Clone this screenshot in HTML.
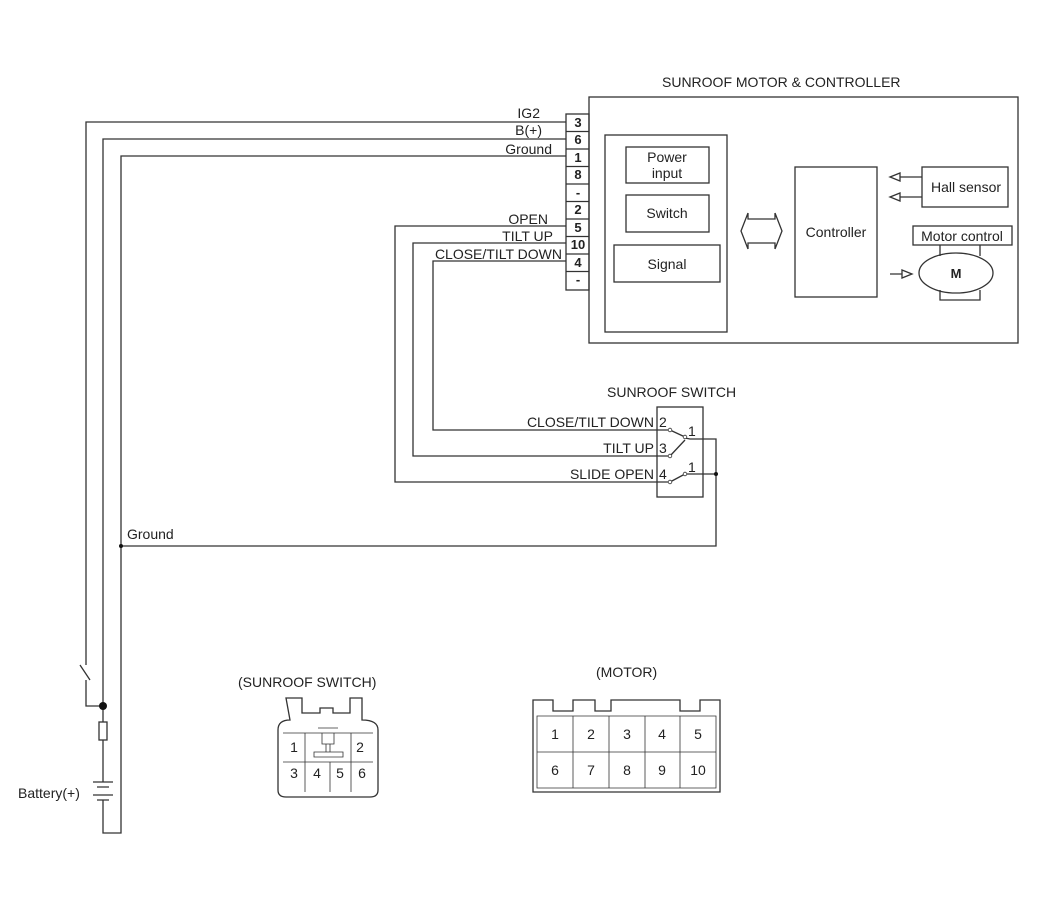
<!DOCTYPE html>
<html><head><meta charset="utf-8"><style>
body{margin:0;background:#fff}
svg text{font-family:"Liberation Sans",sans-serif;fill:#222}
</style></head><body>
<svg width="1050" height="903" viewBox="0 0 1050 903" xmlns="http://www.w3.org/2000/svg">
<g fill="none" stroke="#333" stroke-width="1.3">
<!-- main box -->
<rect x="589" y="97" width="429" height="246"/>
<rect x="566" y="114" width="23" height="176"/>
<path d="M566 131.5H589M566 149H589M566 166.5H589M566 184H589M566 201.5H589M566 219H589M566 236.5H589M566 254H589M566 271.5H589"/>
<rect x="605" y="135" width="122" height="197"/>
<rect x="626" y="147" width="83" height="36"/>
<rect x="626" y="195" width="83" height="37"/>
<rect x="614" y="245" width="106" height="37"/>
<path d="M748 213L741 231L748 249M775 213L782 231L775 249M748 213V219H775V213M748 249V243H775V249"/>
<rect x="795" y="167" width="82" height="130"/>
<rect x="922" y="167" width="86" height="40"/>
<path d="M922 177H900M922 197H900"/>
<path d="M890 177L900 173V181Z M890 197L900 193V201Z"/>
<rect x="913" y="226" width="99" height="19"/>
<path d="M940 245V256M980 245V256M940 290V300H980V290"/>
<ellipse cx="956" cy="273" rx="37" ry="20"/>
<path d="M890 274H902M902 270L912 274L902 278Z"/>
<!-- wires -->
<path d="M566 122H86V665M80 665L90 680M86 680V706H103"/>
<path d="M566 139H103V722M103 740V782M103 800V833H121V156H566"/>
<rect x="99" y="722" width="8" height="18"/>
<path d="M93 782H113M97 787H109M93 795H113M97 800H109"/>
<path d="M566 226H395V482H668"/>
<path d="M566 243H413V456H668"/>
<path d="M566 261H433V430H668"/>
<rect x="657" y="407" width="46" height="90"/>
<path d="M685 438L690 439H716V546H121"/>
<path d="M670 430L685 437M670 456L685 440M670 482L685 474M685 474H716"/>
<!-- connector switch -->
<path d="M286 698H302V713H320V708H333V713H350V698H362V720Q378 720 378 730V790Q378 797 370 797H286Q278 797 278 790V730Q278 720 290 720Z"/>
<path d="M283 733H373M283 762H373M305 733V792M330 762V792M351 733V792" stroke-width="0.8"/>
<path d="M318 728H338M322 733V744H334V733M326 752V744H330V752M314 752H343V757H314Z" stroke-width="0.8"/>
<!-- motor -->
<path d="M533 700H553V711H573V700H595V711H611V700H680V711H700V700H720V792H533Z"/>
<path d="M537 716H716V788H537ZM537 752H716M573 716V788M609 716V788M645 716V788M680 716V788" stroke-width="0.8"/>
</g>
<g fill="#111"><circle cx="103" cy="706" r="4"/><circle cx="121" cy="546" r="2"/><circle cx="716" cy="474" r="2"/></g>
<g fill="#fff" stroke="#333" stroke-width="0.8"><circle cx="670" cy="430" r="1.8"/><circle cx="685" cy="437" r="1.8"/><circle cx="670" cy="456" r="1.8"/><circle cx="670" cy="482" r="1.8"/><circle cx="685" cy="474" r="1.8"/></g>
<g font-size="14">
<text x="662" y="87">SUNROOF MOTOR &amp; CONTROLLER</text>
<g text-anchor="end"><text x="540" y="118">IG2</text><text x="542" y="135">B(+)</text><text x="552" y="154">Ground</text>
<text x="548" y="224">OPEN</text><text x="553" y="241">TILT UP</text><text x="562" y="259">CLOSE/TILT DOWN</text>
<text x="654" y="427">CLOSE/TILT DOWN</text><text x="654" y="453">TILT UP</text><text x="654" y="479">SLIDE OPEN</text></g>
<g text-anchor="middle" font-weight="bold" font-size="13"><text x="578" y="127">3</text><text x="578" y="144">6</text><text x="578" y="162">1</text><text x="578" y="179">8</text><text x="578" y="197">-</text><text x="578" y="214">2</text><text x="578" y="232">5</text><text x="578" y="249">10</text><text x="578" y="267">4</text><text x="578" y="284">-</text></g>
<g text-anchor="middle"><text x="667" y="162">Power</text><text x="667" y="178">input</text><text x="667" y="218">Switch</text><text x="667" y="269">Signal</text><text x="836" y="237">Controller</text><text x="966" y="192">Hall sensor</text><text x="962" y="241">Motor control</text><text x="956" y="278" font-weight="bold" font-size="13">M</text></g>
<text x="607" y="397">SUNROOF SWITCH</text>
<text x="659" y="427">2</text><text x="659" y="453">3</text><text x="659" y="479">4</text><text x="688" y="436">1</text><text x="688" y="472">1</text>
<text x="127" y="539">Ground</text>
<text x="18" y="798">Battery(+)</text>
<text x="238" y="687">(SUNROOF SWITCH)</text>
<text x="596" y="677">(MOTOR)</text>
<g text-anchor="middle"><text x="294" y="752">1</text><text x="360" y="752">2</text><text x="294" y="778">3</text><text x="317" y="778">4</text><text x="340" y="778">5</text><text x="362" y="778">6</text>
<text x="555" y="739">1</text><text x="591" y="739">2</text><text x="627" y="739">3</text><text x="662" y="739">4</text><text x="698" y="739">5</text>
<text x="555" y="775">6</text><text x="591" y="775">7</text><text x="627" y="775">8</text><text x="662" y="775">9</text><text x="698" y="775">10</text></g>
</g>
</svg>
</body></html>
